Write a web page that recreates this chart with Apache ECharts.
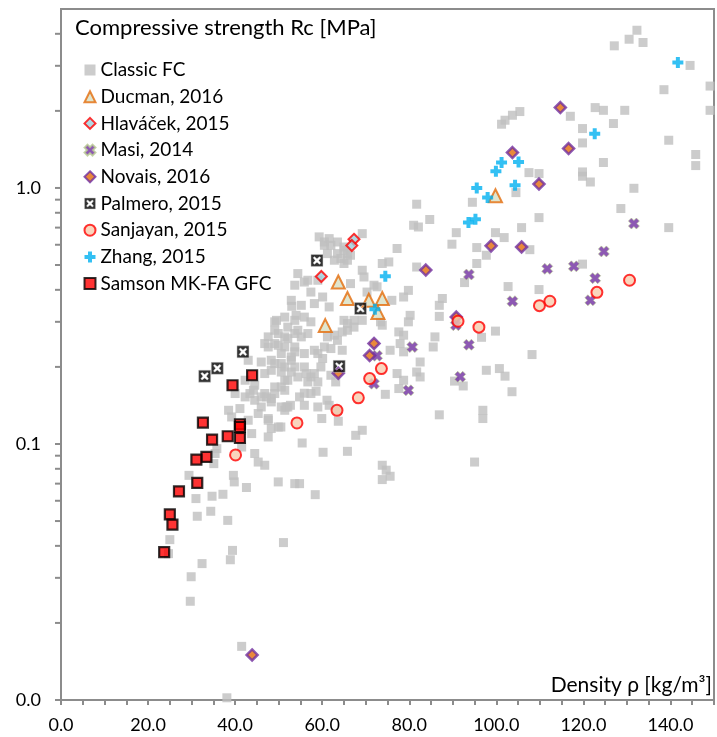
<!DOCTYPE html>
<html><head><meta charset="utf-8">
<script src="https://cdn.jsdelivr.net/npm/echarts/dist/echarts.min.js"></script>
<style>html,body{margin:0;padding:0;background:#fff}#c{width:717px;height:737px}</style>
</head><body><div id="c"></div>
<script>
// ---- data (density, compressive strength) ----
const classicDensity = [132.3,130.5,133.7,127.1,144.5,138.5,149.1,122.7,124.6,129.5,117.0,149.1,126.9,119.8,119.8,139.6,105.4,103.7,102.0,101.2,124.6,145.8,145.8,119.8,119.8,121.6,131.6,107.5,109.8,104.5,94.5,
128.6,109.8,139.6,105.8,90.8,99.8,101.8,89.8,95.5,97.7,107.7,95.5,119.8,92.7,102.7,109.8,87.6,86.9,86.9,99.8,96.6,108.2,97.7,100.7,102.0,90.4,92.4,103.6,86.9,96.9,96.9,95.0,
51.4,58.6,54.8,55.9,61.1,61.6,51.7,52.7,55.9,74.5,59.9,63.7,50.5,69.2,67.7,55.4,60.2,65.8,73.8,74.7,75.6,73.8,54.8,49.9,58.4,
31.0,34.7,37.2,42.6,39.8,31.3,34.4,38.3,51.1,25.0,24.7,39.4,38.9,32.4,29.9,29.7,41.5,38.1,
44.5,44.2,42.3,47.2,48.3,41.1,38.5,46.0,47.6,52.1,51.4,39.2,49.9,48.3,47.6,44.5,45.3,46.8,41.5,35.8,39.6,29.4,53.7,35.4,35.1,
53.0,54.0,49.1,52.1,47.6,49.9,51.4,53.7,46.8,49.1,51.4,53.7,46.0,48.3,50.6,52.9,48.3,50.6,52.9,
59.3,61.6,63.5,60.5,65.0,63.5,65.8,62.8,65.0,54.4,55.9,53.7,59.0,57.4,60.1,52.9,55.2,58.2,61.6,49.5,51.4,53.7,55.9,57.4,49.1,54.4,56.7,52.1,55.2,47.6,49.9,53.7,50.6,52.9,55.9,58.2,60.5,49.1,51.4,53.7,55.9,54.4,57.4,59.0,62.0,63.5,65.8,67.3,65.0,57.4,63.5,59.0,46.8,49.1,51.4,46.8,44.5,43.4,48.3,50.6,45.3,47.6,43.0,41.5,43.8,40.0,42.3,43.0,
81.7,84.7,81.0,82.1,69.2,60.5,62.0,65.0,66.5,61.2,64.3,65.8,77.2,75.3,73.8,81.7,69.2,69.6,66.5,56.7,71.9,70.3,72.6,78.7,79.8,76.0,80.2,79.8,77.6,78.7,73.8,73.4,65.8,67.3,69.2,64.6,62.8,61.2,85.9,85.5,77.9,78.7,82.5,81.7,82.5,75.6,64.6,60.1,59.7,58.2,56.7,59.0,62.0,63.1,56.3,52.1,50.6,49.1,46.0,77.2,78.7,77.6];
const classicStrength = [4.13,3.81,3.70,3.59,3.01,2.42,2.50,2.06,2.01,2.01,1.905,2.01,1.785,1.706,1.499,1.536,1.988,1.923,1.839,1.774,1.257,1.351,1.223,1.155,1.111,1.055,0.997,1.148,1.138,0.959,0.879,
0.831,0.766,0.700,0.700,0.669,0.669,0.640,0.603,0.585,0.546,0.574,0.507,0.504,0.427,0.412,0.401,0.370,0.348,0.315,0.276,0.261,0.2235,0.194,0.197,0.184,0.176,0.1685,0.160,0.130,0.1354,0.1257,0.0850,
0.1774,0.1607,0.1527,0.1578,0.1482,0.1416,0.1395,0.1416,0.1416,0.1563,0.1257,0.1227,0.1165,0.1131,0.1081,0.1009,0.0928,0.0936,0.0826,0.0790,0.0748,0.0726,0.0700,0.0711,0.0634,
0.0612,0.0625,0.0636,0.0676,0.0711,0.0522,0.0546,0.0503,0.0412,0.0423,0.0373,0.0384,0.0353,0.0341,0.0303,0.0243,0.0162,0.0102,
0.1696,0.1621,0.1527,0.1527,0.1505,0.1375,0.1354,0.1395,0.1257,0.1395,0.1354,0.1275,0.1165,0.1149,0.1065,0.0918,0.0850,0.0826,0.0973,0.0959,0.0754,0.0754,0.0700,0.0918,0.0838,
0.345,0.318,0.300,0.286,0.262,0.270,0.262,0.270,0.2467,0.2467,0.2393,0.2393,0.209,0.2123,0.2061,0.2123,0.194,0.191,0.191,
0.644,0.634,0.615,0.597,0.588,0.554,0.554,0.522,0.507,0.463,0.429,0.417,0.436,0.392,0.375,0.364,0.348,0.3535,0.343,0.304,0.313,0.304,0.313,0.300,0.278,0.278,0.270,0.258,0.262,0.2393,0.243,0.229,0.2255,0.2187,0.2255,0.2323,0.2393,0.2061,0.1999,0.1999,0.1999,0.1827,0.1827,0.2255,0.2359,0.254,0.278,0.304,0.304,0.1574,0.1354,0.1395,0.1884,0.167,0.1621,0.1574,0.1482,0.1574,0.146,0.1395,0.1315,0.1238,0.1238,0.1131,0.1098,0.1574,0.1774,0.2123,
0.864,0.753,0.715,0.704,0.663,0.615,0.597,0.571,0.546,0.554,0.530,0.522,0.580,0.514,0.507,0.491,0.477,0.449,0.423,0.436,0.417,0.392,0.411,0.375,0.398,0.364,0.318,0.300,0.274,0.266,0.291,0.300,0.2954,0.286,0.304,0.274,0.266,0.262,0.262,0.2393,0.2467,0.229,0.209,0.191,0.1827,0.2323,0.2323,0.2157,0.1999,0.1884,0.1747,0.1747,0.1855,0.1747,0.1884,0.1774,0.167,0.1574,0.1527,0.1884,0.1774,0.1646];

const ducmanDensity = [63.7,65.8,70.7,73.8,72.8,60.7,99.8];
const ducmanStrength = [0.429,0.370,0.364,0.370,0.326,0.290,0.932];
const hlavacekDensity = [67.3,66.8,59.8];
const hlavacekStrength = [0.630,0.596,0.451];
const masiDensity = [131.6,124.7,117.8,111.7,122.7,93.7,121.6,103.7,90.7,93.7,91.7,80.7,72.6,79.8,71.9];
const masiStrength = [0.726,0.565,0.494,0.483,0.444,0.459,0.364,0.361,0.291,0.244,0.183,0.239,0.221,0.162,0.172];
const novaisDensity = [114.7,116.6,103.7,109.8,98.8,105.8,90.8,83.8,71.9,70.9,63.7,43.9];
const novaisStrength = [2.06,1.425,1.375,1.036,0.594,0.588,0.313,0.478,0.247,0.2215,0.189,0.0150];
const palmeroDensity = [33.0,35.9,41.8,58.8,63.9,68.8];
const palmeroStrength = [0.184,0.1975,0.229,0.521,0.201,0.338];
const sanjayanDensity = [130.6,123.1,112.3,109.9,91.2,96.0,73.6,70.9,68.3,63.4,54.2,40.1];
const sanjayanStrength = [0.436,0.391,0.361,0.347,0.3015,0.286,0.197,0.180,0.1515,0.1354,0.1208,0.0906];
const zhangDensity = [141.7,122.6,105.1,101.2,99.9,104.3,95.5,98.0,95.2,93.6,74.5,72.1];
const zhangStrength = [3.09,1.63,1.264,1.256,1.162,1.024,1.0,0.917,0.755,0.7325,0.452,0.336];
const samsonDensity = [43.9,39.4,32.6,41.1,41.1,34.7,38.3,41.1,33.4,31.1,31.3,27.1,25.0,25.6,23.7];
const samsonStrength = [0.1855,0.1696,0.1212,0.1194,0.1165,0.104,0.1072,0.1055,0.089,0.0869,0.0705,0.0653,0.0531,0.0484,0.0378];

const seriesNames = ['Classic FC','Ducman, 2016','Hlaváček, 2015','Masi, 2014','Novais, 2016','Palmero, 2015','Sanjayan, 2015','Zhang, 2015','Samson MK-FA GFC'];
const yTickValues = [0.01,0.02,0.03,0.04,0.05,0.06,0.07,0.08,0.09,0.1,0.2,0.3,0.4,0.5,0.6,0.7,0.8,0.9,1,2,3,4];
const titleText = 'Compressive strength Rc [MPa]';
const xTitleText = 'Density ρ [kg/m³]';

// ---- chart ----
const pairs = (xs, ys) => xs.map((x, i) => [x, ys[i]]);
const FONT = 'Lato';
const AXIS = '#8c8c8c';
const pathX = 'path://M0,3 L3,0 L5.5,2.5 L8,0 L11,3 L8.5,5.5 L11,8 L8,11 L5.5,8.5 L3,11 L0,8 L2.5,5.5 Z';
const pathPlus = 'path://M3.5,0 H7.5 V3.5 H11 V7.5 H7.5 V11 H3.5 V7.5 H0 V3.5 H3.5 Z';
const pathPalmero = 'path://M0,0 H12 V12 H0 Z M2.2,3.4 L4.3,6 L2.2,8.6 L3.4,9.8 L6,7.7 L8.6,9.8 L9.8,8.6 L7.7,6 L9.8,3.4 L8.6,2.2 L6,4.3 L3.4,2.2 Z';

function sc(name, data, symbol, size, style) {
  return {type:'scatter', name, data, symbol, symbolSize:size, itemStyle:style, emphasis:{disabled:true}};
}

const legendData = seriesNames.map(n => n === 'Palmero, 2015'
  ? {name:n, itemStyle:{color:'#000', borderColor:'#C8C8C8', borderWidth:0.6}}
  : {name:n});

const chart = echarts.init(document.getElementById('c'), null, {renderer:'canvas'});
chart.setOption({
  animation:false,
  backgroundColor:'#fff',
  textStyle:{fontFamily:FONT},
  title:{text:titleText, left:75, top:17, padding:0,
    textStyle:{fontFamily:FONT, fontSize:22, fontWeight:'normal', color:'#000'}},
  legend:{data:legendData, orient:'vertical', left:83.5, top:60, padding:0,
    itemWidth:11, itemHeight:11, itemGap:6.7, selectedMode:false,
    textStyle:{fontFamily:FONT, fontSize:19, color:'#000', lineHeight:20}},
  grid:{left:61, top:9, width:659, height:691, show:true, borderColor:AXIS, borderWidth:2, containLabel:false},
  xAxis:{type:'value', min:0, max:150, interval:5,
    axisLine:{show:true, lineStyle:{color:AXIS, width:2}},
    axisTick:{show:true, length:5, lineStyle:{color:AXIS, width:2}},
    splitLine:{show:false},
    axisLabel:{margin:16, fontFamily:FONT, fontSize:18, color:'#000',
      formatter:v => (Math.abs(v % 20) < 1e-9 ? v.toFixed(1) : '')}},
  yAxis:{type:'log', logBase:10, min:0.01, max:5, interval:1,
    axisLine:{show:true, lineStyle:{color:AXIS, width:2}},
    axisTick:{show:false}, splitLine:{show:false}, minorTick:{show:false},
    axisLabel:{margin:20, fontFamily:FONT, fontSize:18, color:'#000',
      formatter:v => { const l = Math.log10(v); return Math.abs(l - Math.round(l)) < 1e-6 ? v.toFixed(1) : ''; }}},
  graphic:[{type:'text', right:5, top:675, style:{text:xTitleText, font:'21px Lato', fill:'#000'}}],
  series:[
    {type:'custom', name:'yticks', silent:true, clip:false, z:1,
      data:yTickValues.map(v => [0, v]),
      renderItem:(params, api) => {
        const p = api.coord([api.value(0), api.value(1)]);
        return {type:'line', shape:{x1:p[0]-6, y1:p[1], x2:p[0], y2:p[1]}, style:{stroke:AXIS, lineWidth:2}};
      }},
    sc(seriesNames[0], pairs(classicDensity, classicStrength), 'rect', 9, {color:'#BFBFBF'}),
    sc(seriesNames[1], pairs(ducmanDensity, ducmanStrength), 'triangle', 13, {color:'#D8DEC2', borderColor:'#E46C0A', borderWidth:2}),
    sc(seriesNames[2], pairs(hlavacekDensity, hlavacekStrength), 'diamond', 11, {color:'#9DCFDD', borderColor:'#FF0000', borderWidth:2}),
    sc(seriesNames[3], pairs(masiDensity, masiStrength), pathX, 11, {color:'#7030A0', borderColor:'#B9CB92', borderWidth:0.8}),
    sc(seriesNames[4], pairs(novaisDensity, novaisStrength), 'diamond', 11, {color:'#E46C0A', borderColor:'#7030A0', borderWidth:2.5}),
    sc(seriesNames[5], pairs(palmeroDensity, palmeroStrength), pathPalmero, 12, {color:'#000', borderColor:'#D0D0D0', borderWidth:0.6}),
    sc(seriesNames[6], pairs(sanjayanDensity, sanjayanStrength), 'circle', 11, {color:'#F8CBAD', borderColor:'#FF0000', borderWidth:2}),
    sc(seriesNames[7], pairs(zhangDensity, zhangStrength), pathPlus, 11, {color:'#00B0F0'}),
    sc(seriesNames[8], pairs(samsonDensity, samsonStrength), 'rect', 10, {color:'#FF0000', borderColor:'#000', borderWidth:2.2})
  ]
});
</script></body></html>
